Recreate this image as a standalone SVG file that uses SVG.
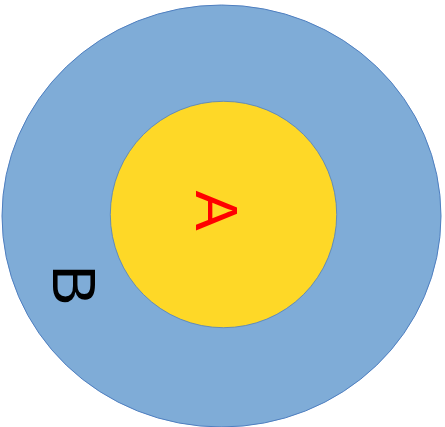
<svg xmlns="http://www.w3.org/2000/svg" width="445" height="427" viewBox="0 0 445 427">
<style>
.lbl{font-family:"Liberation Sans",Arial,sans-serif;text-anchor:middle}
</style>
<rect width="445" height="427" fill="#ffffff"/>
<g id="B">
<ellipse cx="221.5" cy="216" rx="219.5" ry="211" fill="#7FACD7" stroke="#4F7FC0" stroke-width="1"/>
<text class="lbl" transform="translate(53.3,285.2) rotate(90)" font-size="61" fill="#000000">B</text>
</g>
<g id="A">
<circle cx="223.5" cy="214.5" r="113.2" fill="#FED827" stroke="#4F7FC0" stroke-width="0.8"/>
<text class="lbl" transform="translate(196,210.4) rotate(90)" font-size="60" fill="#FF0000">A</text>
</g>
<g id="connectors"></g>
</svg>
